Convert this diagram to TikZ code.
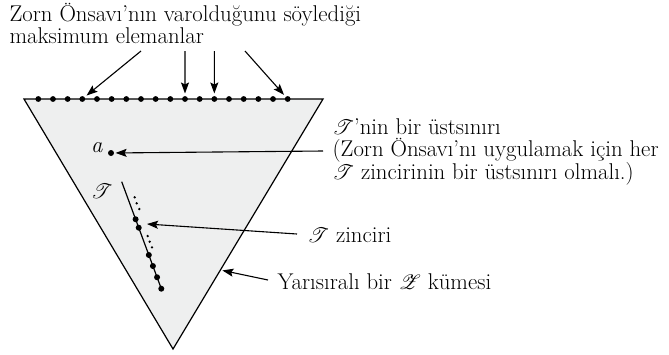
\documentclass[tikz,border=0pt]{standalone}
\usepackage{fontspec}
\usepackage{mathrsfs}
\usetikzlibrary{arrows.meta, calc}
\definecolor{zornFill}{RGB}{238,239,239}

\begin{document}
\begin{tikzpicture}[x=1pt, y=-1pt, line width=1.2pt,
    font=\fontsize{22.8}{22}\selectfont,
    bead/.style={circle, fill, inner sep=0pt, minimum size=6pt},
    arr/.style={-{Stealth[length=11pt, width=8pt, inset=2pt]}, line width=1.1pt}]
  \useasboundingbox (0,0) rectangle (669,354);
  % the partially ordered set Z
  \coordinate (TL) at (24,99);
  \coordinate (TR) at (323,99);
  \coordinate (B) at (173,349);
  \filldraw[fill=zornFill] (TL) -- (TR) -- (B) -- cycle;
  % maximal elements on top
  \foreach \i in {0,...,17}
    \node[bead, minimum size=5.8pt] (m\i) at ({38.3+14.67*\i},99) {};
  \node[anchor=base west, align=left, inner sep=0pt] (maxlab) at (9,43)
    {Zorn Önsavı’nın varolduğunu söylediği\\maksimum elemanlar};
  \coordinate (q1) at (141,51); \coordinate (q2) at (185,51);
  \coordinate (q3) at (214.3,51); \coordinate (q4) at (245,51);
  \draw[arr, shorten >=2pt] (q1) -- (m3);
  \draw[arr, shorten >=2pt] (q2) -- (m10);
  \draw[arr, shorten >=2pt] (q3) -- (m12);
  \draw[arr, shorten >=2pt] (q4) -- (m17);
  % upper bound a
  \node[bead] (ub) at (111,153) {};
  \node (alab) at (97,148) {\textit{a}};
  \node[anchor=west, align=left, inner sep=0pt] (ublab) at (332,152)
    {$\mathscr{T}$’nin bir üstsınırı\\(Zorn Önsavı’nı uygulamak için her\\$\mathscr{T}$ zincirinin bir üstsınırı olmalı.)};
  \coordinate (ubtail) at (323,151);
  \draw[arr, shorten >=1pt] (ubtail) -- (ub);
  % the chain T
  \coordinate (c0) at (121.7,181.7);
  \coordinate (c1) at (161.3,288.7);
  \draw (c0) -- (c1);
  \foreach \t [count=\k] in {0.351,0.43,0.685,0.788,0.893,1}
    \node[bead] (z\k) at ($(c0)!\t!(c1)$) {};
  \foreach \p in {(134.7,197.3),(136.7,203.3),(139.3,209),(147.7,236),(149.7,241.7),(152,247.3)}
    \fill \p circle (1.3pt);
  \node (chlab) at (102,191) {$\mathscr{T}$};
  \node[anchor=base west, inner sep=0pt] (chtxt) at (307,242) {$\mathscr{T}$ zinciri};
  \coordinate (chtail) at (297,234);
  \coordinate (chhit) at (147,224);
  \draw[arr] (chtail) -- (chhit);
  % the set Z
  \node[anchor=base west, inner sep=0pt] (settxt) at (277,289) {Yarısıralı bir $\mathscr{Z}$ kümesi};
  \coordinate (settail) at (268,280);
  \coordinate (sethit) at ($(TR)!0.684!(B)$);
  \draw[arr, shorten >=2pt] (settail) -- (sethit);
\end{tikzpicture}
\end{document}
